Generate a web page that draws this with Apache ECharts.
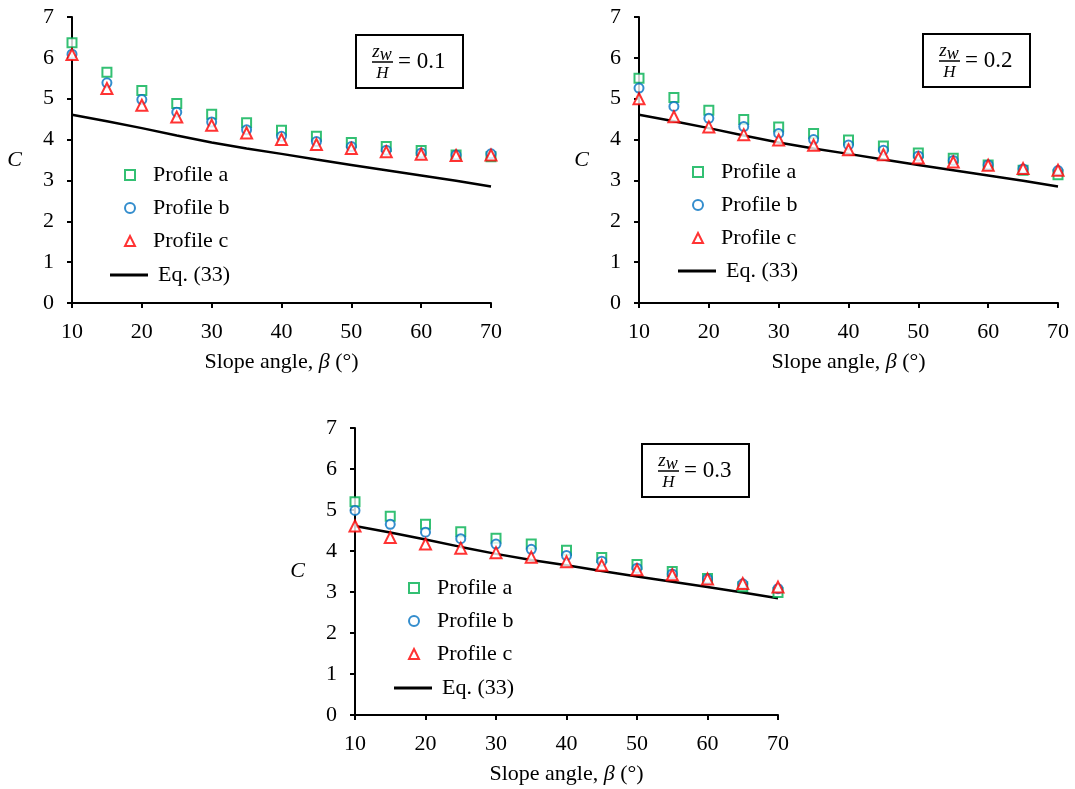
<!DOCTYPE html>
<html>
<head>
<meta charset="utf-8">
<script src="https://cdn.jsdelivr.net/npm/echarts@6/dist/echarts.min.js"></script>
<style>
  html, body { margin: 0; padding: 0; background: #fff; }
  #chart { width: 1075px; height: 789px; }
</style>
</head>
<body>
<div id="chart"></div>
<script>
const angles = [10, 15, 20, 25, 30, 35, 40, 45, 50, 55, 60, 65, 70];
const eq33 = [4.61, 4.45, 4.28, 4.10, 3.93, 3.78, 3.65, 3.51, 3.38, 3.25, 3.12, 2.99, 2.85];

const a01 = [6.37, 5.65, 5.20, 4.88, 4.62, 4.41, 4.23, 4.08, 3.93, 3.83, 3.73, 3.62, 3.58];
const b01 = [6.09, 5.39, 4.98, 4.67, 4.43, 4.24, 4.08, 3.95, 3.83, 3.74, 3.67, 3.62, 3.65];
const c01 = [6.08, 5.25, 4.84, 4.55, 4.35, 4.16, 4.00, 3.88, 3.78, 3.70, 3.64, 3.61, 3.62];

const a02 = [5.50, 5.03, 4.72, 4.49, 4.31, 4.15, 3.99, 3.84, 3.67, 3.54, 3.38, 3.25, 3.14];
const b02 = [5.26, 4.81, 4.52, 4.32, 4.15, 4.00, 3.87, 3.74, 3.60, 3.49, 3.38, 3.28, 3.24];
const c02 = [5.00, 4.56, 4.31, 4.12, 3.99, 3.86, 3.75, 3.63, 3.55, 3.45, 3.37, 3.29, 3.25];

const a03 = [5.20, 4.85, 4.65, 4.47, 4.31, 4.17, 4.02, 3.84, 3.67, 3.50, 3.33, 3.13, 2.99];
const b03 = [4.99, 4.65, 4.46, 4.30, 4.17, 4.04, 3.89, 3.75, 3.58, 3.44, 3.32, 3.20, 3.08];
const c03 = [4.61, 4.33, 4.17, 4.07, 3.96, 3.85, 3.74, 3.65, 3.54, 3.42, 3.32, 3.21, 3.12];

const ratios = ['0.1', '0.2', '0.3'];
const xTicks = { min: 10, max: 70, interval: 10 };
const yTicks = { min: 0, max: 7, interval: 1 };

const font = 'Liberation Serif, Times New Roman, serif';
const colors = { a: '#00B050', b: '#0070C0', c: '#FF0000' };

const panels = [
    { grid: { left: 72, right: 584, top: 17, bottom: 486 }, data: [a01, b01, c01],
      legend: { left: 124, top: 163, lineLeft: 110, lineTop: 263 }, box: [356, 35] },
    { grid: { left: 639, right: 17, top: 17, bottom: 486 }, data: [a02, b02, c02],
      legend: { left: 692, top: 160, lineLeft: 678, lineTop: 259 }, box: [923, 34] },
    { grid: { left: 355, right: 297, top: 428, bottom: 74 }, data: [a03, b03, c03],
      legend: { left: 408, top: 576, lineLeft: 394, lineTop: 676 }, box: [642, 444] }
];

const pairs = arr => angles.map((x, i) => [x, arr[i]]);

const chart = echarts.init(document.getElementById('chart'));

const grids = [], xAxes = [], yAxes = [], series = [], legends = [], graphics = [];

panels.forEach((p, i) => {
    grids.push(p.grid);
    xAxes.push({
        type: 'value', gridIndex: i, min: xTicks.min, max: xTicks.max, interval: xTicks.interval,
        axisLine: { lineStyle: { color: '#000', width: 2 } },
        axisTick: { show: true, length: 5, lineStyle: { color: '#000', width: 2 } },
        axisLabel: { color: '#000', fontSize: 22, fontFamily: font, margin: 18 },
        splitLine: { show: false },
        name: '{n|Slope angle, }{b|β}{n| (°)}',
        nameLocation: 'middle', nameGap: 48,
        nameTextStyle: {
            rich: {
                n: { fontSize: 22, fontFamily: font, color: '#000' },
                b: { fontSize: 22, fontFamily: font, fontStyle: 'italic', color: '#000' }
            }
        }
    });
    yAxes.push({
        type: 'value', gridIndex: i, min: yTicks.min, max: yTicks.max, interval: yTicks.interval,
        axisLine: { show: true, lineStyle: { color: '#000', width: 2 } },
        axisTick: { show: true, length: 5, lineStyle: { color: '#000', width: 2 } },
        axisLabel: { color: '#000', fontSize: 22, fontFamily: font, margin: 18 },
        splitLine: { show: false },
        name: 'C', nameLocation: 'middle', nameRotate: 0, nameGap: 50,
        nameTextStyle: { fontSize: 22, fontFamily: font, fontStyle: 'italic', color: '#000', padding: [7, 0, 0, 0] }
    });

    series.push(
        { name: 'Profile a', type: 'scatter', xAxisIndex: i, yAxisIndex: i, data: pairs(p.data[0]),
          symbol: 'emptyRect', symbolSize: 9, itemStyle: { color: colors.a, borderWidth: 2.2 } },
        { name: 'Profile b', type: 'scatter', xAxisIndex: i, yAxisIndex: i, data: pairs(p.data[1]),
          symbol: 'emptyCircle', symbolSize: 9, itemStyle: { color: colors.b, borderWidth: 2.2 } },
        { name: 'Profile c', type: 'scatter', xAxisIndex: i, yAxisIndex: i, data: pairs(p.data[2]),
          symbol: 'emptyTriangle', symbolSize: 11, itemStyle: { color: colors.c, borderWidth: 2.2 } },
        { name: 'Eq. (33)', type: 'line', xAxisIndex: i, yAxisIndex: i, data: pairs(eq33),
          symbol: 'none', z: 1, itemStyle: { color: '#000' }, lineStyle: { color: '#000', width: 2.5 } }
    );

    legends.push({
        orient: 'vertical', left: p.legend.left, top: p.legend.top, padding: 0,
        itemWidth: 10, itemHeight: 10, itemGap: 9,
        data: [
            { name: 'Profile a', icon: 'emptyRect' },
            { name: 'Profile b', icon: 'emptyCircle' },
            { name: 'Profile c', icon: 'emptyTriangle' }
        ],
        itemStyle: { borderWidth: 2.2 },
        textStyle: { fontSize: 22, fontFamily: font, color: '#000', lineHeight: 24, padding: [0, 0, 0, 13] },
        selectedMode: false
    });
    legends.push({
        orient: 'vertical', left: p.legend.lineLeft, top: p.legend.lineTop, padding: 0,
        itemWidth: 38, itemHeight: 3,
        data: [{ name: 'Eq. (33)', icon: 'rect', itemStyle: { color: '#000' } }],
        textStyle: { fontSize: 22, fontFamily: font, color: '#000', lineHeight: 24, padding: [0, 0, 0, 5] },
        selectedMode: false
    });

    const [bx, by] = p.box;
    graphics.push({
        type: 'group', x: bx, y: by,
        children: [
            { type: 'rect', shape: { x: 0, y: 0, width: 107, height: 53 },
              style: { fill: '#fff', stroke: '#000', lineWidth: 2 } },
            { type: 'text', x: 26, y: 17,
              style: { text: '{z|z}{w|w}', align: 'center', verticalAlign: 'middle',
                       rich: { z: { fontSize: 19, fontFamily: font, fontStyle: 'italic', fill: '#000' },
                               w: { fontSize: 18, fontFamily: font, fontStyle: 'italic', fill: '#000', padding: [6, 0, 0, 0] } } } },
            { type: 'line', shape: { x1: 16, y1: 27, x2: 37, y2: 27 }, style: { stroke: '#000', lineWidth: 1.5 } },
            { type: 'text', x: 26.5, y: 39,
              style: { text: 'H', align: 'center', verticalAlign: 'middle', fontSize: 17,
                       fontFamily: font, fontStyle: 'italic', fill: '#000' } },
            { type: 'text', x: 42, y: 27,
              style: { text: '= ' + ratios[i], align: 'left', verticalAlign: 'middle', fontSize: 23,
                       fontFamily: font, fill: '#000' } }
        ]
    });
});

chart.setOption({
    backgroundColor: '#fff',
    animation: false,
    grid: grids,
    xAxis: xAxes,
    yAxis: yAxes,
    legend: legends,
    series: series,
    graphic: graphics
});
</script>
</body>
</html>
